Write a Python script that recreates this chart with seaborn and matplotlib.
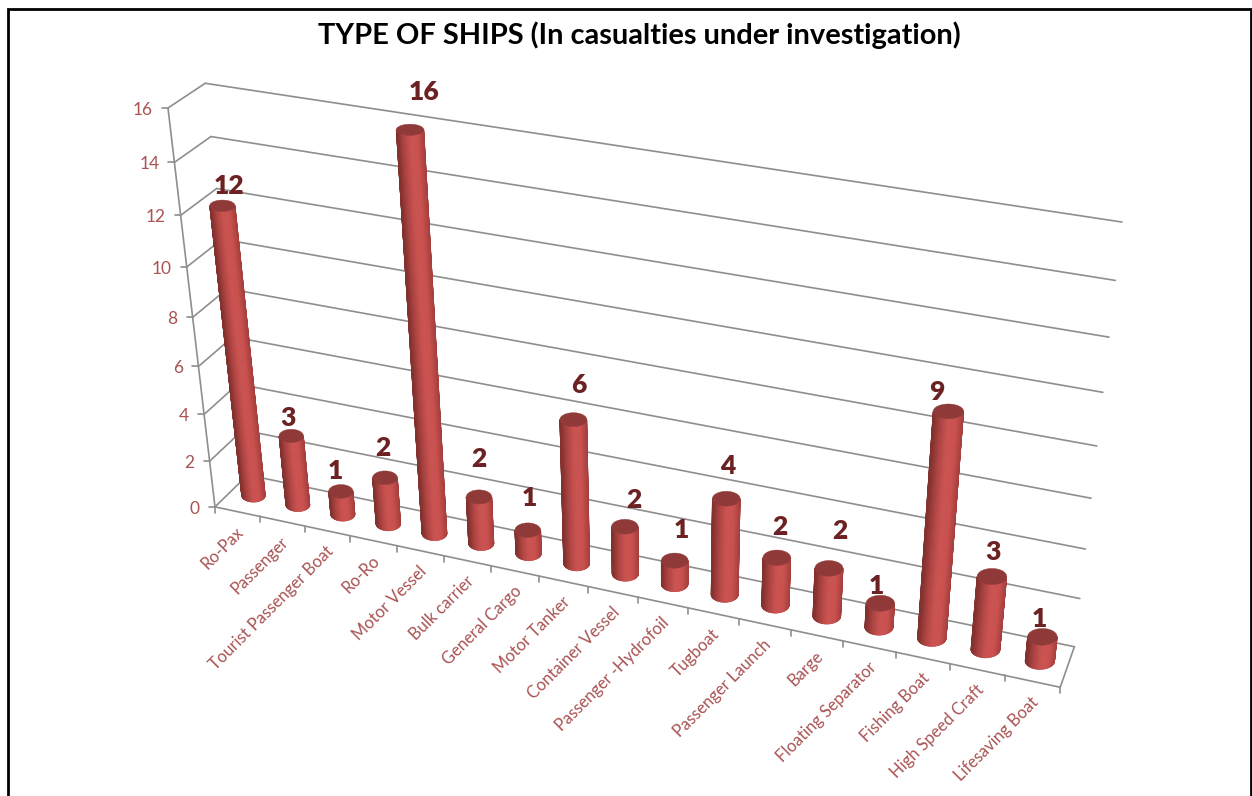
import numpy as np
import pandas as pd
import matplotlib
matplotlib.use('Agg')
import matplotlib.pyplot as plt
from matplotlib.collections import PolyCollection
import seaborn as sns

##################################################################
#### data
ship_types = ['Ro-Pax', 'Passenger', 'Tourist Passenger Boat', 'Ro-Ro', 'Motor Vessel',
              'Bulk carrier', 'General Cargo', 'Motor Tanker', 'Container Vessel',
              'Passenger -Hydrofoil', 'Tugboat', 'Passenger Launch', 'Barge',
              'Floating Separator', 'Fishing Boat', 'High Speed Craft', 'Lifesaving Boat']
casualties = [12, 3, 1, 2, 16, 2, 1, 6, 2, 1, 4, 2, 2, 1, 9, 3, 1]
y_ticks = [0, 2, 4, 6, 8, 10, 12, 14, 16]
y_max = 16

##################################################################
#### layout: the 3D box (x, value, depth, all 0-1) and where its corners sit in pixels
box_corners = [(0, 0, 0), (0, 1, 0), (0, 1, 1), (0, 0, 1), (1, 0, 0), (1, 0, 1), (1, 1, 1), (0, .5, 0)]
box_pixels = [(214, 507), (169.5, 108.5), (204, 83), (249, 475), (1060.5, 687), (1074, 647), (1122, 222), (192, 317)]
# data label shift from the bar top, the original chart places them by hand
label_shift = [(7, -20), (-3, -18), (-5, -20), (-2, -30), (14, -38), (0, -38), (2, -32), (6, -35), (9, -27),
               (7, -31), (1, -33), (3, -31), (11, -37), (-4, -17), (-12, -19), (1, -25), (-3, -18)]

sns.set_theme(style='white')
plt.rcParams['font.family'] = ['Lato', 'DejaVu Sans']

##################################################################
A = []
for (X, Y, Z), (u, v) in zip(box_corners, box_pixels):
    u, v = u / 1000, v / 1000
    A.append([X, Y, Z, 1, 0, 0, 0, 0, -u * X, -u * Y, -u * Z, -u])
    A.append([0, 0, 0, 0, X, Y, Z, 1, -v * X, -v * Y, -v * Z, -v])
P = np.linalg.svd(np.array(A, dtype=float))[2][-1].reshape(3, 4)


def project(x, y, z):
    x, y, z = np.broadcast_arrays(np.asarray(x, float), np.asarray(y, float), np.asarray(z, float))
    h = np.stack([x, y, z, np.ones_like(x)], axis=-1) @ P.T
    return h[..., 0] / h[..., 2] * 1000, h[..., 1] / h[..., 2] * 1000


def disc(cx, f, t):
    # level ellipse on screen for the bar cross section at height f
    x0, y0 = project(cx, f, .5)
    w = (project(cx + rx, f, .5)[0] - project(cx - rx, f, .5)[0]) / 2
    e = (project(cx, f, .5 - rz)[1] - project(cx, f, .5 + rz)[1]) / 2
    return x0 + w * np.cos(t), y0 + e * np.sin(t)


##################################################################
plt.close('all')
fig = plt.figure(figsize=[12.52, 7.96], dpi=100)
ax = fig.add_axes([0, 0, 1, 1])

#### box lines
rows = []


def add_line(name, a, b):
    px, py = project(*np.array([a, b]).T)
    for x_, y_ in zip(px, py):
        rows.append({'line': name, 'px': x_, 'py': y_})


for t in y_ticks:
    f = t / y_max
    add_line('side%d' % t, (0, f, 0), (0, f, 1))
    add_line('back%d' % t, (0, f, 1), (1, f, 1))
add_line('axis', (0, 0, 0), (0, 1, 0))
add_line('front', (0, 0, 0), (1, 0, 0))
add_line('right', (1, 0, 0), (1, 0, 1))
n = len(ship_types)
grid_df = pd.DataFrame(rows)
sns.lineplot(data=grid_df, x='px', y='py', units='line', estimator=None, sort=False, color='#8e8e8e',
             linewidth=1.2, ax=ax, legend=False, zorder=1)

#### ticks
for t in y_ticks:
    px, py = project(0, t / y_max, 0)
    ax.plot([px - 6, px], [py, py], color='#8e8e8e', lw=1.2, zorder=1)
    ax.text(px - 15, py + 2, str(t), ha='right', va='center', fontsize=12.5, color='#a95353')
for i in range(n + 1):
    px, py = project(i / n, 0, 0)
    ax.plot([px, px], [py, py + 6], color='#8e8e8e', lw=1.2, zorder=1)
for i, name in enumerate(ship_types):
    px, py = project((i + .5) / n, 0, 0)
    ax.text(px + 4, py + 18, name, rotation=45, rotation_mode='anchor', ha='right', va='center',
            fontsize=11.9, color='#a95353')

#### cylinders
body = sns.blend_palette(['#83312f', '#b04644', '#cb5452', '#c9514f', '#a03e3c'], 48)
rx, rz = .0158, .21
angles = np.linspace(0, np.pi, 60)
rim = np.linspace(0, 2 * np.pi, 73)
for i, val in enumerate(casualties):
    cx = (i + .5) / n
    h = val / y_max
    bx, by = disc(cx, 0, angles)
    tx, ty = disc(cx, h, angles)
    quads = [[(bx[k], by[k]), (bx[k + 1], by[k + 1]), (tx[k + 1], ty[k + 1]), (tx[k], ty[k])] for k in range(59)]
    mid = (angles[:-1] + angles[1:]) / 2
    # angle 0 is the right hand edge, the left edge is the darkest
    cols = [body[int((np.cos(m) + 1) / 2 * 47)] for m in mid]
    ax.add_collection(PolyCollection(quads, facecolors=cols, edgecolors=cols, linewidths=.5, zorder=3 + i))
    ex, ey = disc(cx, h, rim)
    ax.fill(ex, ey, color='#8f3a38', lw=.3, zorder=3 + i)
    # label
    lx, ly = project(cx, h, .5)
    ax.text(lx + label_shift[i][0], ly + label_shift[i][1], str(val), ha='center', va='center', fontsize=19,
            fontweight='heavy', color='#6c2222', zorder=40)

#### title and frame
ax.text(639, 35.5, 'TYPE OF SHIPS (In casualties under investigation)', ha='center', va='center', fontsize=20.9,
        fontweight='bold', color='black')
ax.plot([8, 8, 1251, 1251], [796, 9, 9, 796], color='black', lw=2, solid_joinstyle='miter', zorder=50)

ax.set_xlim(0, 1252)
ax.set_ylim(796, 0)
ax.axis('off')
plt.savefig('out.png', dpi=100)
